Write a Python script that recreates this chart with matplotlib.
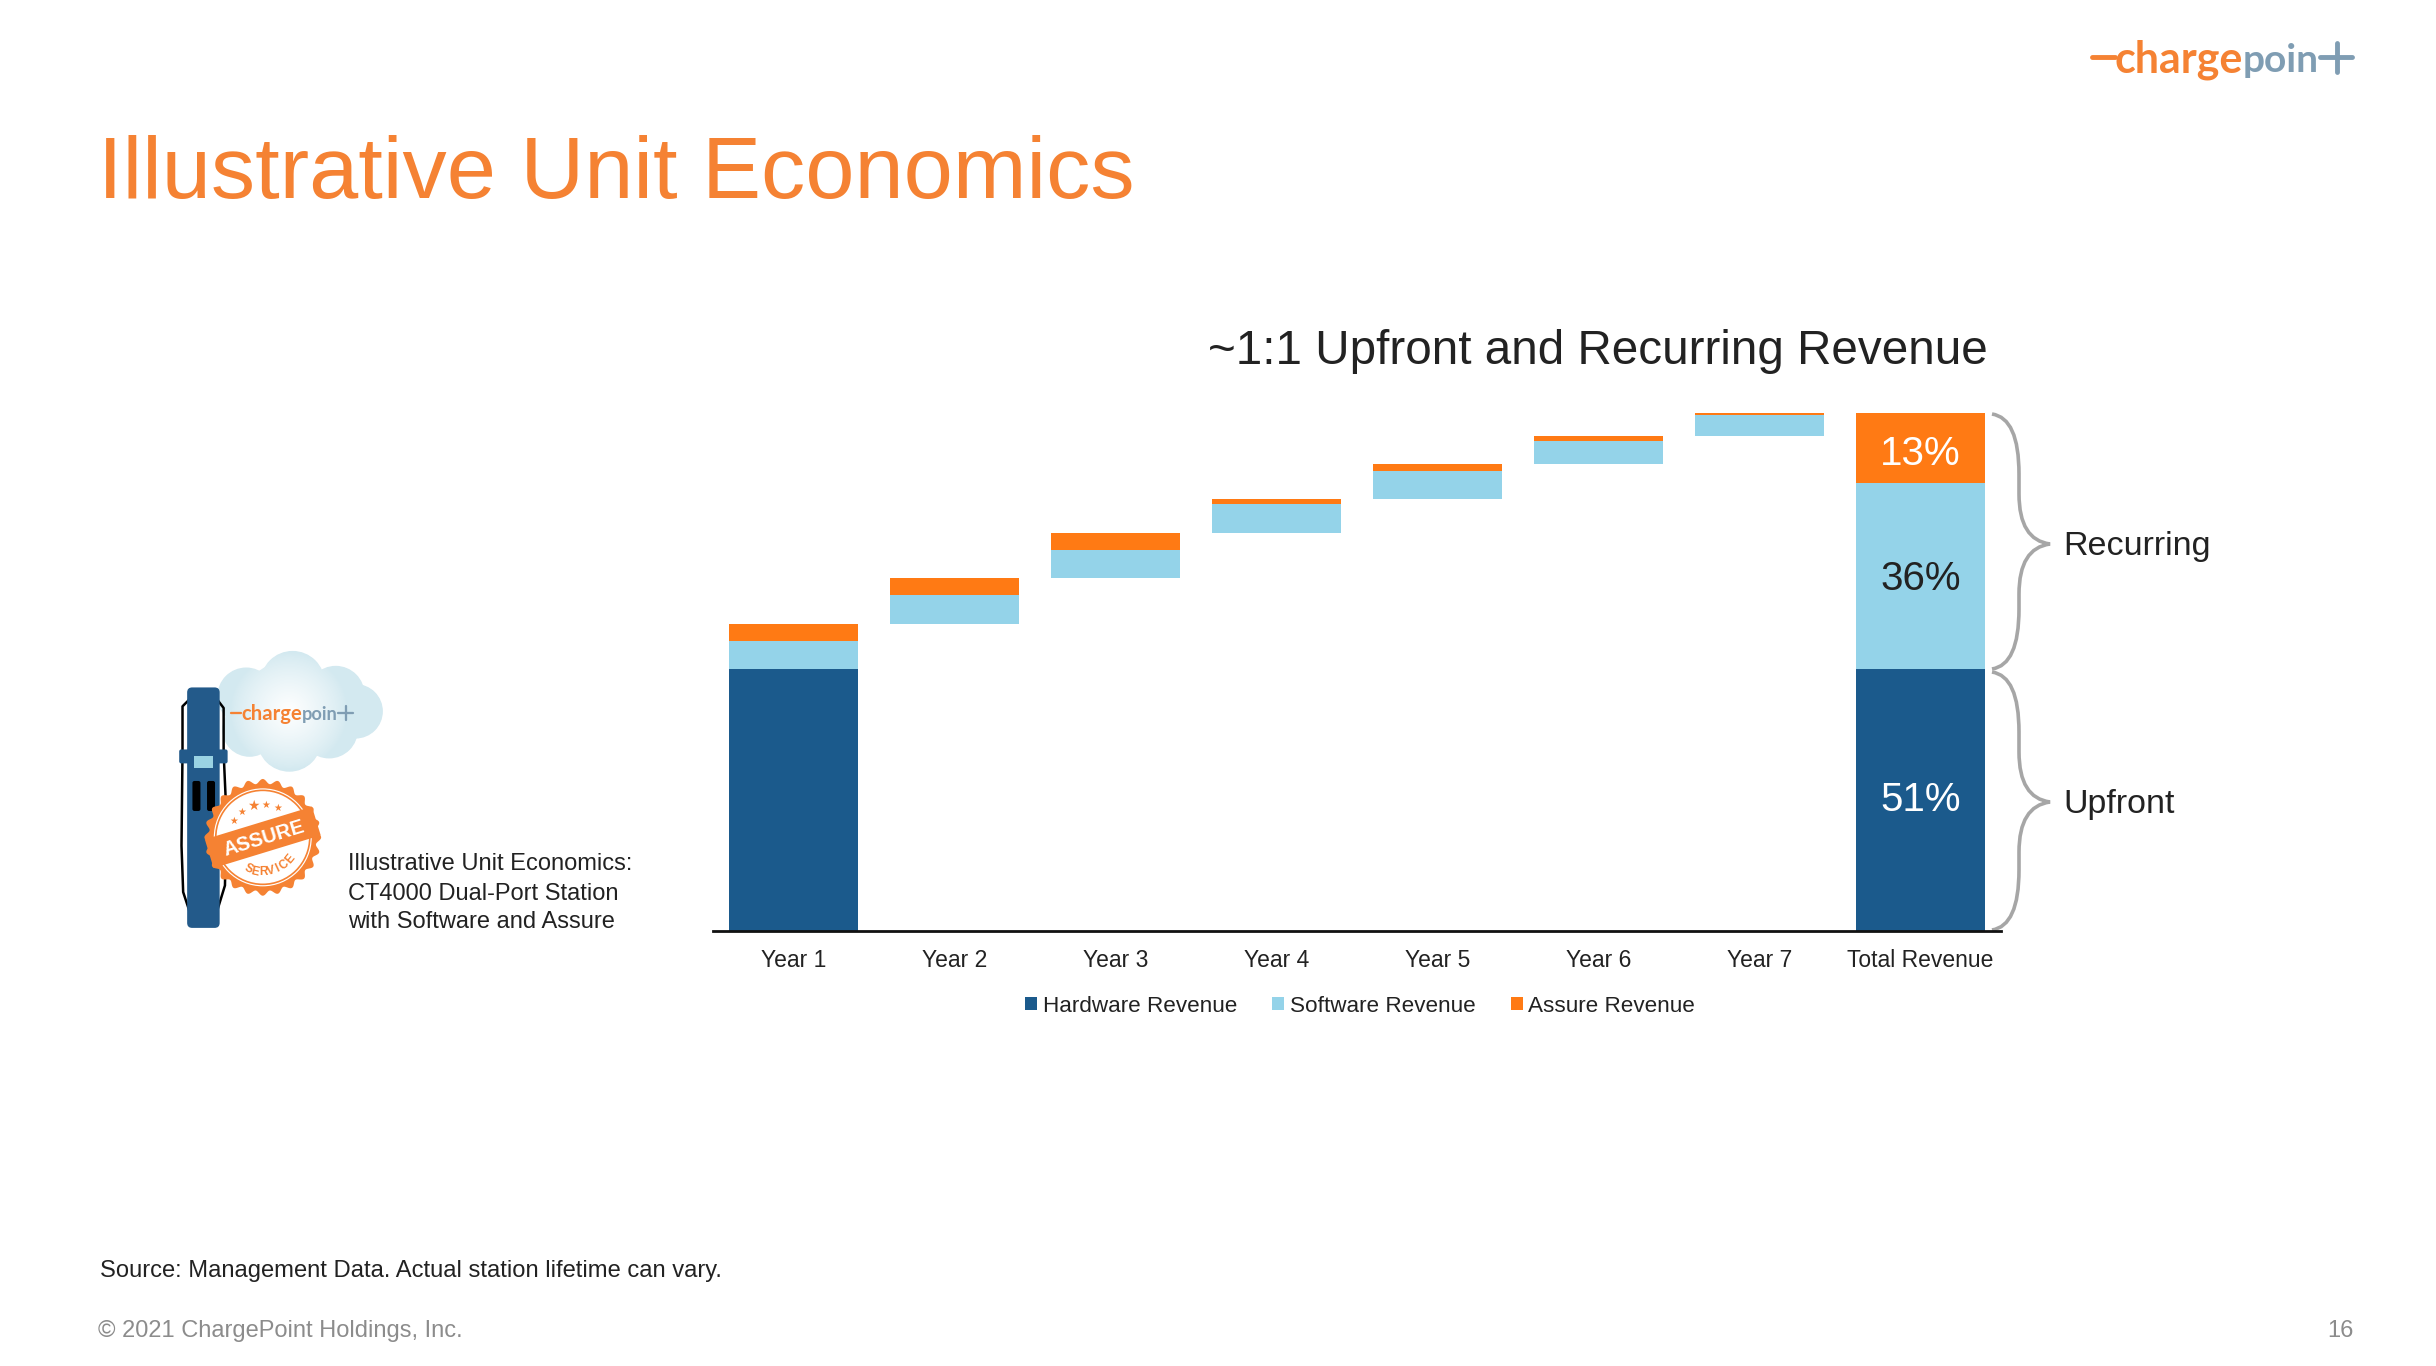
import numpy as np
import matplotlib
matplotlib.use('Agg')
import matplotlib.pyplot as plt
from matplotlib.patches import Circle, FancyBboxPatch, PathPatch, Polygon, Rectangle
from matplotlib.path import Path

plt.rcParams['font.family'] = ['Liberation Sans', 'DejaVu Sans']

# Chart values, in percent of total revenue
categories = ['Year 1', 'Year 2', 'Year 3', 'Year 4', 'Year 5', 'Year 6', 'Year 7', 'Total Revenue']
hardware = [50.6, 0, 0, 0, 0, 0, 0]
software = [5.4, 5.5, 5.4, 5.7, 5.4, 4.4, 4.1]
assure = [3.3, 3.3, 3.3, 0.9, 1.35, 1.05, 0.3]
total_labels = ['51%', '36%', '13%']

BLUE = '#1B5A8C'
LIGHT = '#94D3E9'
ORANGE = '#FF7A14'
BRAND = '#F58233'
STEEL = '#7F9DB3'
GREY = '#A6A6A6'
INK = '#222222'

W, H = 2436, 1366
fig = plt.figure(figsize=(W / 100, H / 100), dpi=100, facecolor='white')

# overlay in pixel coordinates for everything that is not the chart
page = fig.add_axes([0, 0, 1, 1], zorder=0)
page.set_xlim(0, W)
page.set_ylim(H, 0)
page.axis('off')

# --- chart ---
left, right, top, bottom = 713, 2001, 413, 930.6
ax = fig.add_axes([left / W, 1 - bottom / H, (right - left) / W, (bottom - top) / H], zorder=1)
ax.patch.set_alpha(0)

hw_total = sum(hardware)
sw_total = sum(software)
as_total = sum(assure)
grand_total = hw_total + sw_total + as_total

x = np.arange(len(categories))
bar_w = 0.805
hw_vals = hardware + [hw_total]
sw_vals = software + [sw_total]
as_vals = assure + [as_total]

# every year starts where the previous one ended
bases = []
running = 0
for h, s, a in zip(hardware, software, assure):
    bases.append(running)
    running += h + s + a
bases.append(0)
bases = np.array(bases)

ax.bar(x, hw_vals, bar_w, bottom=bases, color=BLUE, label='Hardware Revenue')
ax.bar(x, sw_vals, bar_w, bottom=bases + np.array(hw_vals), color=LIGHT, label='Software Revenue')
ax.bar(x, as_vals, bar_w, bottom=bases + np.array(hw_vals) + np.array(sw_vals), color=ORANGE, label='Assure Revenue')

ax.set_xlim(-0.5, 7.5)
ax.set_ylim(0, grand_total)
ax.set_xticks(x)
ax.set_xticklabels(categories, fontsize=16.5, color=INK)
ax.tick_params(axis='x', length=0, pad=13)
ax.set_yticks([])
for side in ['top', 'left', 'right']:
    ax.spines[side].set_visible(False)
ax.spines['bottom'].set_linewidth(2)
ax.spines['bottom'].set_color('#111111')

label_y = [hw_total / 2, hw_total + sw_total / 2, hw_total + sw_total + as_total / 2]
label_colors = ['white', INK, 'white']
label_nudge = [0, -3, -6]
for txt, yv, col, dy in zip(total_labels, label_y, label_colors, label_nudge):
    ax.annotate(txt, (7, yv), xytext=(0, dy), textcoords='offset pixels', color=col,
                fontsize=29, ha='center', va='center')

leg = ax.legend(loc='center', bbox_to_anchor=(1360 / W, 1 - 1006 / H), bbox_transform=fig.transFigure, ncol=3,
                frameon=False, fontsize=16.2, handlelength=0.55, handleheight=0.55, handletextpad=0.25,
                columnspacing=1.55, borderpad=0)
for t in leg.get_texts():
    t.set_color(INK)


# --- braces ---
def brace(y0, y1, ytip):
    x0, xs, xt = 1992, 2019, 2050
    verts = [(x0, y0), (xs, y0 + 4), (xs, y0 + 60),
             (xs, ytip - 50),
             (xs, ytip - 4), (xt, ytip),
             (xs, ytip + 4), (xs, ytip + 50),
             (xs, y1 - 60),
             (xs, y1 - 4), (x0, y1)]
    codes = [Path.MOVETO, Path.CURVE3, Path.CURVE3,
             Path.LINETO,
             Path.CURVE3, Path.CURVE3,
             Path.CURVE3, Path.CURVE3,
             Path.LINETO,
             Path.CURVE3, Path.CURVE3]
    page.add_patch(PathPatch(Path(verts, codes), fill=False, edgecolor=GREY, lw=2.6))


brace(414, 669, 544)
brace(672, 930, 802)
page.text(2063, 546, 'Recurring', fontsize=24.5, color=INK, va='center')
page.text(2063, 804, 'Upfront', fontsize=24.5, color=INK, va='center')

# --- page text ---
page.text(98, 198, 'Illustrative Unit Economics', fontsize=63.6, color=BRAND, va='baseline')
page.text(1598, 352, '~1:1 Upfront and Recurring Revenue', fontsize=34.3, color=INK, ha='center', va='center')
page.text(348, 864.5, 'Illustrative Unit Economics:', fontsize=17, color=INK, va='center')
page.text(348, 893.5, 'CT4000 Dual-Port Station', fontsize=17, color=INK, va='center')
page.text(348, 922.5, 'with Software and Assure', fontsize=17, color=INK, va='center')
page.text(100, 1271.5, 'Source: Management Data. Actual station lifetime can vary.', fontsize=17.1, color=INK, va='center')
page.text(98, 1331, '© 2021 ChargePoint Holdings, Inc.', fontsize=17, color='#8C8C8C', va='center')
page.text(2354, 1331, '16', fontsize=17, color='#8C8C8C', ha='right', va='center')


# --- logo ---
def logo(x0, base, scale):
    page.plot([x0, x0 + 23 * scale], [base - 15 * scale] * 2, color=BRAND, lw=3.5 * scale, solid_capstyle='round')
    page.text(x0 + 22 * scale, base, 'charge', fontsize=31 * scale, color=BRAND, family='Lato', weight='bold', va='baseline')
    page.text(x0 + 151 * scale, base, 'poin', fontsize=28 * scale, color=STEEL, family='Lato', weight='bold', va='baseline')
    page.plot([x0 + 228 * scale, x0 + 260 * scale], [base - 15 * scale] * 2, color=STEEL, lw=3.5 * scale, solid_capstyle='round')
    page.plot([x0 + 245 * scale] * 2, [base - 29 * scale, base], color=STEEL, lw=3.5 * scale, solid_capstyle='round')


logo(2092, 72, 1.0)


# --- station, cloud and badge drawing ---
def px(zx, zy):
    return 150 + zx / 3.015, 640 + zy / 3.015


lumps = [(290, 170, 85), (430, 130, 95), (560, 165, 85), (620, 215, 80),
         (540, 270, 85), (420, 300, 95), (300, 270, 80), (420, 215, 150)]
for zx, zy, zr in lumps:
    page.add_patch(Circle(px(zx, zy), zr / 3.015, facecolor='#D3E9F0', edgecolor='#D3E9F0', zorder=1))
cx, cy = px(420, 215)
yy, xx = np.mgrid[-1:1:120j, -1:1:120j]
glow = np.zeros((120, 120, 4))
glow[..., :3] = 1
glow[..., 3] = np.clip(1 - np.hypot(xx, yy) * 1.05, 0, 1) ** 0.8
page.imshow(glow, extent=(cx - 62, cx + 62, cy + 62, cy - 62), zorder=1.5, aspect='auto')
page.set_xlim(0, W)
page.set_ylim(H, 0)

logo(px(243, 0)[0], px(0, 240)[1], 0.47)

cable_l = [(118, 180), (98, 200), (98, 340), (95, 620), (100, 760), (118, 815)]
cable_r = [(203, 180), (222, 205), (222, 340), (230, 520), (226, 740), (203, 815)]
for cable in (cable_l, cable_r):
    pts = [px(*p) for p in cable]
    page.plot([p[0] for p in pts], [p[1] for p in pts], color='black', lw=1.8, zorder=2)

x0, y0 = px(112, 143)
x1, y1 = px(210, 868)
page.add_patch(FancyBboxPatch((x0 + 5, y0 + 5), x1 - x0 - 10, y1 - y0 - 10, boxstyle='round,pad=5', fc='#235A8A', ec='none', zorder=3))
x0, y0 = px(88, 330)
x1, y1 = px(234, 372)
page.add_patch(FancyBboxPatch((x0 + 2, y0 + 2), x1 - x0 - 4, y1 - y0 - 4, boxstyle='round,pad=2', fc='#235A8A', ec='none', zorder=3))
x0, y0 = px(132, 350)
x1, y1 = px(190, 385)
page.add_patch(Rectangle((x0, y0), x1 - x0, y1 - y0, fc='#9AD3E3', ec='none', zorder=4))
for zx in (140, 184):
    hx, hy = px(zx, 425)
    page.add_patch(FancyBboxPatch((hx - 2, hy + 2), 4, 26, boxstyle='round,pad=2', fc='black', ec='none', zorder=4))

bx, by = px(340, 595)
ang = np.linspace(0, 2 * np.pi, 361)
rad = 56 + 2.4 * np.cos(24 * ang)
page.add_patch(Polygon(np.c_[bx + rad * np.cos(ang), by + rad * np.sin(ang)], fc=BRAND, ec='none', zorder=5))
page.add_patch(Circle((bx, by), 49, fc='white', ec='none', zorder=5.1))
page.add_patch(Circle((bx, by), 47, fc='none', ec=BRAND, lw=1.2, zorder=5.2))
# angled band with the word on it
tilt = np.deg2rad(-17)
u = np.array([np.cos(tilt), np.sin(tilt)])
v = np.array([-np.sin(tilt), np.cos(tilt)])
corners = [np.array([bx, by]) + s * 56 * u + t * 15 * v for s, t in [(-1, -1), (1, -1), (1, 1), (-1, 1)]]
page.add_patch(Polygon(corners, fc=BRAND, ec='none', zorder=5.3))
page.text(bx + 1, by + 1, 'ASSURE', color='white', fontsize=14.5, weight='bold', rotation=17,
          rotation_mode='anchor', ha='center', va='center', zorder=6)
for i, off in enumerate(np.deg2rad([-44, -22, 0, 22, 44])):
    a = tilt - np.pi / 2 + off
    page.text(bx + 33 * np.cos(a), by + 33 * np.sin(a), '★', color=BRAND, family='DejaVu Sans',
              fontsize=10 if i == 2 else 7, ha='center', va='center', zorder=6)
for ch, deg in zip('SERVICE', [-42, -30, -16, -3, 8, 20, 34]):
    a = np.deg2rad(90 - 17 - deg)
    page.text(bx + 35 * np.cos(a), by + 35 * np.sin(a), ch, color=BRAND, fontsize=8.5, weight='bold',
              rotation=17 + deg, ha='center', va='center', zorder=6)

fig.savefig('out.png', dpi=100)
